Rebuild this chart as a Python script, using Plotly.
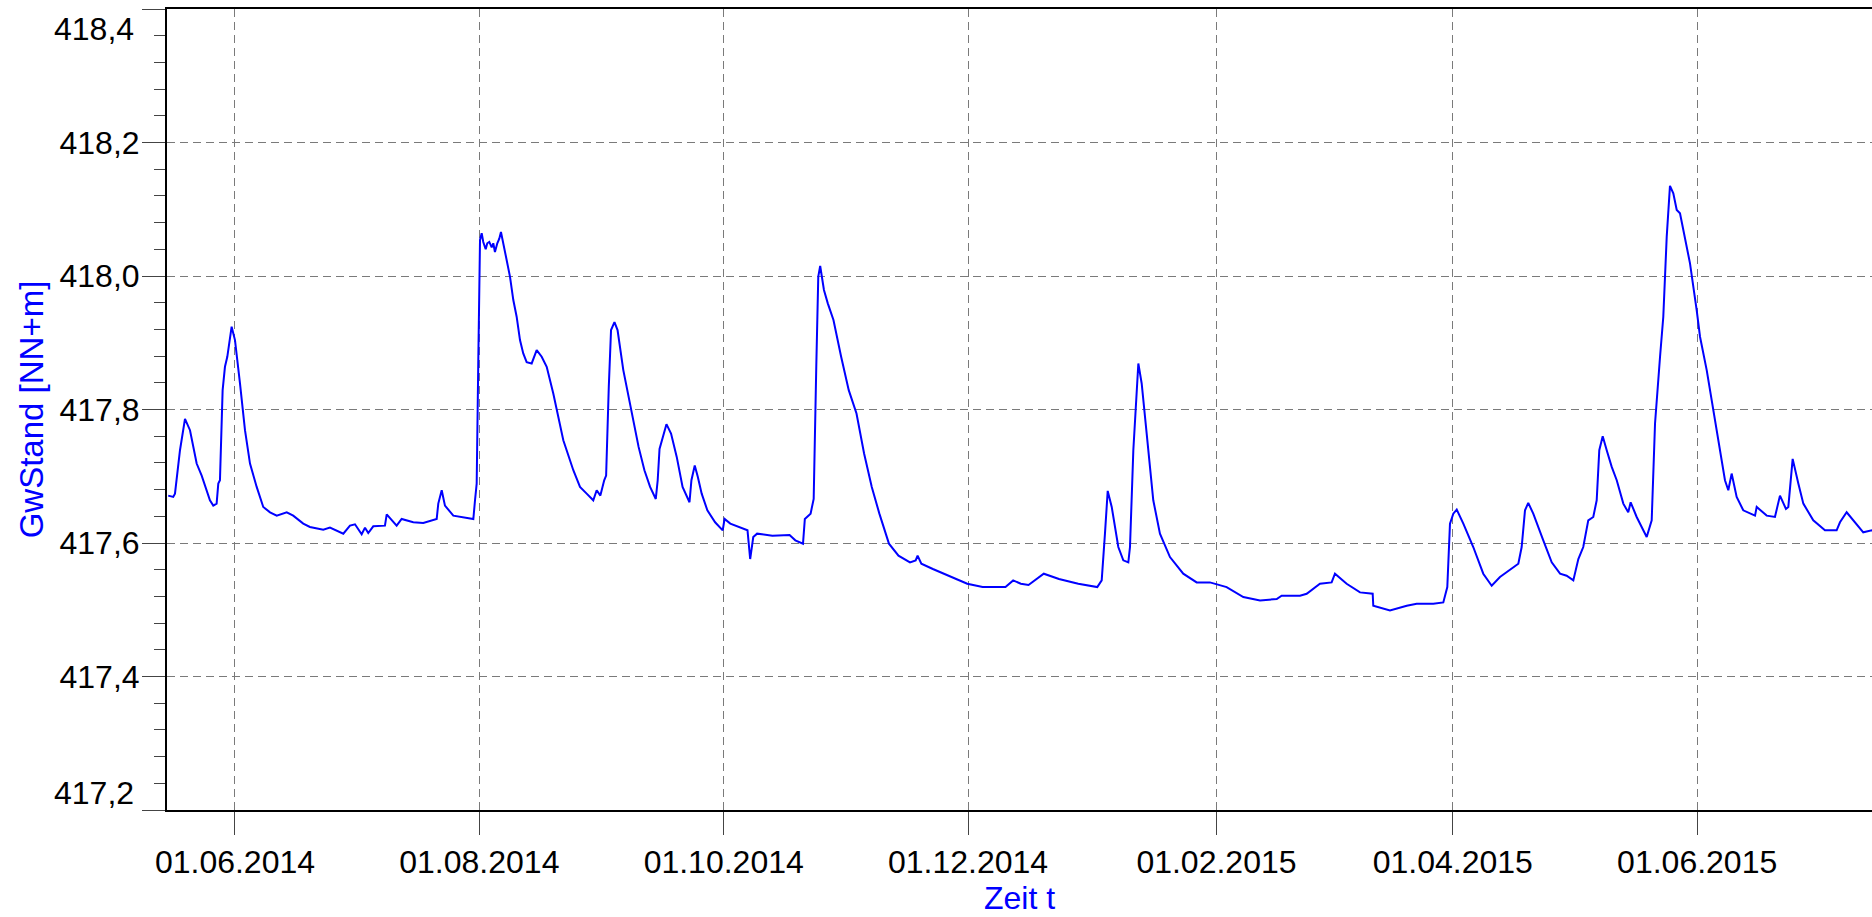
import plotly.graph_objects as go

# Groundwater level readings
dates = [
    "2014-05-15 08:00", "2014-05-16 14:00", "2014-05-17 00:30", "2014-05-18 06:30", "2014-05-19 12:30",
    "2014-05-20 18:30", "2014-05-22 10:30", "2014-05-23 16:30", "2014-05-25 18:00", "2014-05-26 14:00",
    "2014-05-27 10:00", "2014-05-27 20:00", "2014-05-28 06:00", "2014-05-28 22:00", "2014-05-29 12:00",
    "2014-05-30 02:00", "2014-05-31 04:00", "2014-06-01 00:00", "2014-06-02 06:00", "2014-06-03 12:00",
    "2014-06-04 18:00", "2014-06-06 10:00", "2014-06-08 01:30", "2014-06-09 18:00", "2014-06-11 10:00",
    "2014-06-13 22:00", "2014-06-15 13:00", "2014-06-18 01:00", "2014-06-19 17:00", "2014-06-23 01:00",
    "2014-06-24 17:00", "2014-06-28 01:00", "2014-06-29 17:00", "2014-06-30 23:00", "2014-07-02 15:00",
    "2014-07-03 11:00", "2014-07-04 06:30", "2014-07-05 12:30", "2014-07-08 10:30", "2014-07-08 21:00",
    "2014-07-11 08:30", "2014-07-12 14:30", "2014-07-15 12:00", "2014-07-18 00:00", "2014-07-21 08:30",
    "2014-07-21 18:00", "2014-07-22 14:30", "2014-07-23 10:00", "2014-07-25 12:00", "2014-07-28 00:00",
    "2014-07-30 12:00", "2014-07-30 22:00", "2014-07-31 08:00", "2014-07-31 17:30", "2014-07-31 23:30",
    "2014-08-01 04:00", "2014-08-01 14:00", "2014-08-01 23:30", "2014-08-02 14:00", "2014-08-02 23:30",
    "2014-08-03 11:30", "2014-08-04 02:00", "2014-08-04 11:30", "2014-08-04 21:30", "2014-08-05 11:30",
    "2014-08-05 23:30", "2014-08-06 09:30", "2014-08-06 23:00", "2014-08-07 19:30", "2014-08-08 15:30",
    "2014-08-09 11:30", "2014-08-10 07:30", "2014-08-11 03:30", "2014-08-11 23:00", "2014-08-12 19:30",
    "2014-08-14 01:30", "2014-08-15 07:30", "2014-08-16 13:30", "2014-08-17 19:30", "2014-08-19 11:00",
    "2014-08-21 23:00", "2014-08-24 11:00", "2014-08-26 03:00", "2014-08-27 19:00", "2014-08-29 10:30",
    "2014-08-30 07:00", "2014-08-31 05:00", "2014-09-01 04:00", "2014-09-01 15:30", "2014-09-02 07:30",
    "2014-09-02 21:00", "2014-09-03 17:30", "2014-09-04 12:00", "2014-09-05 22:30", "2014-09-07 09:00",
    "2014-09-09 18:00", "2014-09-11 05:00", "2014-09-12 15:00", "2014-09-14 01:00", "2014-09-14 12:30",
    "2014-09-14 23:30", "2014-09-16 17:00", "2014-09-17 20:30", "2014-09-19 06:30", "2014-09-20 17:30",
    "2014-09-21 16:30", "2014-09-22 11:00", "2014-09-22 22:30", "2014-09-23 18:30", "2014-09-24 13:00",
    "2014-09-25 12:00", "2014-09-26 22:00", "2014-09-28 20:30", "2014-09-30 18:00", "2014-10-01 05:00",
    "2014-10-02 15:30", "2014-10-04 13:30", "2014-10-06 22:30", "2014-10-07 14:30", "2014-10-08 09:00",
    "2014-10-09 08:00", "2014-10-13 03:30", "2014-10-17 10:30", "2014-10-18 21:00", "2014-10-20 19:00",
    "2014-10-21 06:00", "2014-10-22 16:30", "2014-10-23 11:00", "2014-10-24 02:30", "2014-10-24 14:30",
    "2014-10-25 02:00", "2014-10-26 00:30", "2014-10-26 23:30", "2014-10-28 09:30", "2014-10-30 07:30",
    "2014-11-01 05:00", "2014-11-03 03:30", "2014-11-05 01:00", "2014-11-06 23:00", "2014-11-08 20:30",
    "2014-11-11 06:00", "2014-11-13 15:00", "2014-11-16 12:00", "2014-11-17 22:00", "2014-11-18 09:30",
    "2014-11-19 08:00", "2014-11-22 05:00", "2014-11-26 00:30", "2014-11-30 19:00", "2014-12-04 15:00",
    "2014-12-10 08:00", "2014-12-12 06:00", "2014-12-14 04:00", "2014-12-16 02:00", "2014-12-19 21:30",
    "2014-12-23 16:30", "2014-12-28 12:00", "2015-01-02 06:00", "2015-01-03 08:30", "2015-01-04 04:00",
    "2015-01-04 20:30", "2015-01-05 20:30", "2015-01-07 12:00", "2015-01-08 18:00", "2015-01-10 00:00",
    "2015-01-10 10:00", "2015-01-11 06:00", "2015-01-12 12:00", "2015-01-13 08:00", "2015-01-14 14:00",
    "2015-01-16 05:30", "2015-01-17 21:30", "2015-01-20 09:30", "2015-01-23 17:00", "2015-01-27 01:30",
    "2015-01-30 09:00", "2015-02-03 13:00", "2015-02-07 17:00", "2015-02-11 21:00", "2015-02-16 01:00",
    "2015-02-17 06:30", "2015-02-21 20:30", "2015-02-23 12:30", "2015-02-26 20:00", "2015-03-01 18:00",
    "2015-03-02 14:00", "2015-03-05 12:00", "2015-03-08 20:00", "2015-03-12 00:00", "2015-03-12 03:30",
    "2015-03-16 07:30", "2015-03-20 12:00", "2015-03-22 23:30", "2015-03-27 03:00", "2015-03-29 15:00",
    "2015-03-30 15:00", "2015-03-31 07:00", "2015-04-01 03:00", "2015-04-01 23:30", "2015-04-03 15:00",
    "2015-04-06 02:30", "2015-04-08 14:30", "2015-04-10 17:00", "2015-04-12 18:30", "2015-04-17 08:30",
    "2015-04-18 04:30", "2015-04-19 00:30", "2015-04-19 20:00", "2015-04-21 02:00", "2015-04-23 14:00",
    "2015-04-25 16:30", "2015-04-27 18:30", "2015-04-29 10:00", "2015-05-01 02:00", "2015-05-02 08:00",
    "2015-05-03 13:30", "2015-05-04 19:30", "2015-05-06 01:30", "2015-05-06 22:00", "2015-05-07 13:30",
    "2015-05-08 10:00", "2015-05-09 10:00", "2015-05-10 16:00", "2015-05-11 22:00", "2015-05-13 13:30",
    "2015-05-14 19:00", "2015-05-15 09:30", "2015-05-16 21:30", "2015-05-19 09:30", "2015-05-20 15:30",
    "2015-05-21 11:30", "2015-05-22 17:30", "2015-05-23 13:00", "2015-05-24 09:30", "2015-05-25 05:00",
    "2015-05-26 01:00", "2015-05-26 21:30", "2015-05-27 17:00", "2015-05-28 23:00", "2015-05-30 05:00",
    "2015-05-31 21:00", "2015-06-01 17:00", "2015-06-03 09:00", "2015-06-05 00:30", "2015-06-06 16:30",
    "2015-06-07 22:30", "2015-06-08 18:30", "2015-06-09 14:30", "2015-06-10 20:30", "2015-06-12 12:00",
    "2015-06-15 10:30", "2015-06-15 20:30", "2015-06-18 08:30", "2015-06-20 10:00", "2015-06-21 16:00",
    "2015-06-23 04:00", "2015-06-23 18:00", "2015-06-24 20:00", "2015-06-26 06:00", "2015-06-27 12:00",
    "2015-06-29 23:30", "2015-07-02 21:30", "2015-07-05 19:30", "2015-07-06 15:30", "2015-07-08 07:30",
    "2015-07-09 23:00", "2015-07-12 11:00", "2015-07-14 15:00", "2015-07-16 00:00",
]

gw_stand = [
    417.671, 417.669, 417.674, 417.739, 417.786,
    417.769, 417.719, 417.701, 417.664, 417.656,
    417.659, 417.689, 417.694, 417.829, 417.864,
    417.879, 417.924, 417.904, 417.839, 417.769,
    417.719, 417.684, 417.654, 417.646, 417.641,
    417.646, 417.641, 417.629, 417.624, 417.620,
    417.623, 417.614, 417.626, 417.628, 417.613,
    417.623, 417.615, 417.625, 417.626, 417.643,
    417.626, 417.636, 417.631, 417.630, 417.636,
    417.659, 417.679, 417.656, 417.641, 417.639,
    417.636, 417.664, 417.689, 417.869, 418.024,
    418.054, 418.064, 418.051, 418.040, 418.049,
    418.051, 418.043, 418.049, 418.036, 418.049,
    418.056, 418.066, 418.051, 418.024, 417.999,
    417.964, 417.939, 417.904, 417.884, 417.871,
    417.869, 417.889, 417.879, 417.864, 417.824,
    417.754, 417.709, 417.684, 417.674, 417.664,
    417.679, 417.671, 417.694, 417.701, 417.834,
    417.919, 417.931, 417.919, 417.859, 417.814,
    417.744, 417.709, 417.684, 417.666, 417.694,
    417.741, 417.778, 417.764, 417.729, 417.684,
    417.671, 417.661, 417.694, 417.716, 417.699,
    417.674, 417.649, 417.631, 417.619, 417.636,
    417.629, 417.624, 417.619, 417.576, 417.609,
    417.614, 417.611, 417.612, 417.604, 417.599,
    417.636, 417.644, 417.666, 417.864, 417.999,
    418.015, 417.979, 417.959, 417.934, 417.879,
    417.829, 417.794, 417.734, 417.684, 417.644,
    417.599, 417.581, 417.571, 417.574, 417.581,
    417.569, 417.561, 417.551, 417.539, 417.534,
    417.534, 417.544, 417.539, 417.537, 417.554,
    417.546, 417.539, 417.534, 417.544, 417.614,
    417.678, 417.654, 417.594, 417.574, 417.571,
    417.594, 417.739, 417.869, 417.839, 417.764,
    417.664, 417.614, 417.579, 417.554, 417.541,
    417.541, 417.534, 417.519, 417.514, 417.516,
    417.521, 417.521, 417.524, 417.539, 417.541,
    417.554, 417.539, 417.526, 417.524, 417.506,
    417.499, 417.506, 417.509, 417.509, 417.511,
    417.534, 417.629, 417.644, 417.650, 417.629,
    417.594, 417.554, 417.536, 417.549, 417.569,
    417.594, 417.649, 417.660, 417.644, 417.604,
    417.571, 417.554, 417.551, 417.544, 417.576,
    417.594, 417.634, 417.639, 417.664, 417.739,
    417.760, 417.739, 417.714, 417.694, 417.659,
    417.646, 417.661, 417.639, 417.609, 417.634,
    417.779, 417.879, 417.939, 418.059, 418.135,
    418.124, 418.099, 418.094, 418.059, 418.019,
    417.949, 417.909, 417.859, 417.799, 417.739,
    417.694, 417.679, 417.704, 417.669, 417.649,
    417.641, 417.654, 417.641, 417.639, 417.671,
    417.651, 417.654, 417.726, 417.689, 417.659,
    417.634, 417.619, 417.619, 417.631, 417.646,
    417.634, 417.616, 417.619, 417.615,
]

x_range = ["2014-05-15 00:45", "2015-07-14 15:20"]
y_range = [417.2, 418.4]
y_tick_vals = [417.2, 417.4, 417.6, 417.8, 418.0, 418.2, 418.4]
y_tick_text = ["", "417,4", "417,6", "417,8", "418,0", "418,2", ""]
y_edge_labels = [("418,4", 418.4, -20), ("417,2", 417.2, 17)]

FONT = "Liberation Sans, Arial, sans-serif"
BLUE = "#0000FF"

fig = go.Figure()
fig.add_trace(go.Scatter(
    x=dates, y=gw_stand, mode="lines",
    line=dict(color=BLUE, width=2),
    showlegend=False, hoverinfo="x+y",
))

fig.update_layout(
    width=1872, height=917,
    margin=dict(l=167, r=0, t=9, b=107, pad=0),
    paper_bgcolor="white", plot_bgcolor="white",
    font=dict(family=FONT, size=32, color="black"),
    showlegend=False,
)

fig.update_xaxes(
    type="date", range=x_range,
    tick0="2014-06-01", dtick="M2", tickformat="%d.%m.%Y",
    ticks="outside", ticklen=23, tickwidth=1, tickcolor="#444",
    tickfont=dict(family=FONT, size=32, color="black"),
    showgrid=True, gridcolor="#7a7a7a", gridwidth=1, griddash="8px,5px",
    showline=True, linecolor="black", linewidth=2, mirror=True,
    zeroline=False,
    title=dict(text="Zeit t", font=dict(family=FONT, size=32, color=BLUE), standoff=6),
    automargin=False,
)

fig.update_yaxes(
    range=y_range,
    tickvals=y_tick_vals, ticktext=y_tick_text,
    ticks="outside", ticklen=23, tickwidth=1, tickcolor="#444",
    ticklabelstandoff=-4,
    tickfont=dict(family=FONT, size=32, color="black"),
    minor=dict(dtick=0.04, tick0=417.2, ticks="outside", ticklen=11, tickcolor="#444", tickwidth=1, showgrid=False),
    showgrid=True, gridcolor="#7a7a7a", gridwidth=1, griddash="8px,5px",
    showline=True, linecolor="black", linewidth=2, mirror=False,
    zeroline=False,
    title=dict(text="GwStand [NN+m]", font=dict(family=FONT, size=33, color=BLUE), standoff=6),
    automargin=False,
)

for txt, val, shift in y_edge_labels:
    fig.add_annotation(
        x=0, xref="paper", y=val, yref="y", text=txt, showarrow=False,
        xanchor="right", yanchor="middle", xshift=-31, yshift=shift,
        font=dict(family=FONT, size=32, color="black"),
    )

fig.write_html(
    "out.html",
    config={"displayModeBar": False},
    post_script="document.body.style.margin='0px';document.body.style.overflow='hidden';",
)
